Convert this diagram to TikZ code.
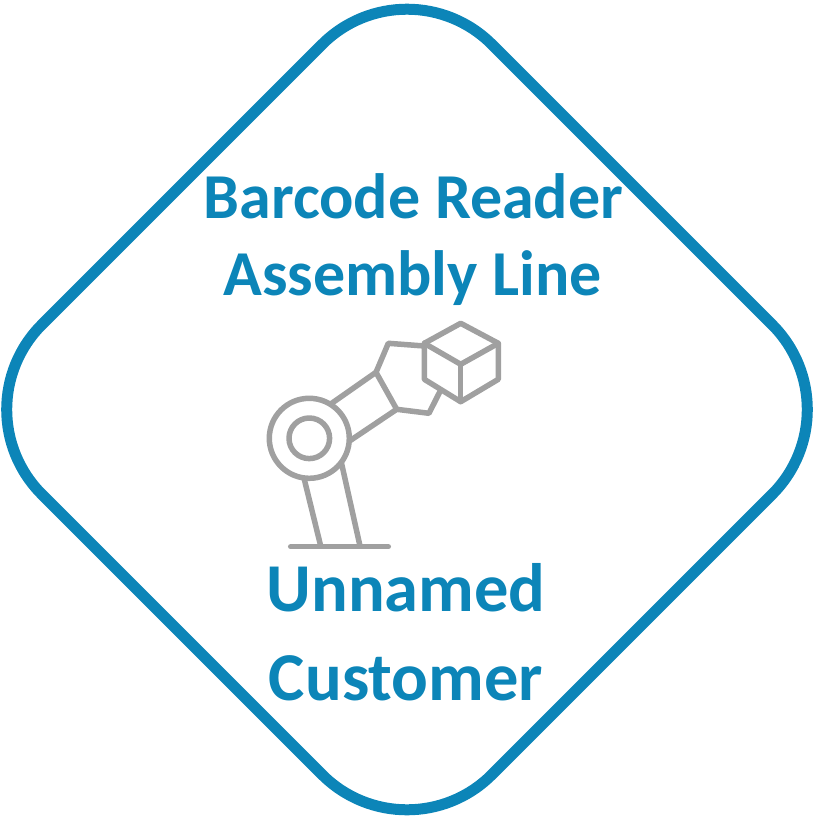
\documentclass[tikz,border=0pt]{standalone}
\usepackage{fontspec}
\setmainfont{Carlito}
\usetikzlibrary{positioning, calc}
\definecolor{framecol}{HTML}{0C85B8}
\definecolor{robotcol}{HTML}{A0A0A0}

\begin{document}
\begin{tikzpicture}[
  x=1pt, y=-1pt,
  frame/.style = {draw=framecol, line width=11pt, rounded corners=120pt},
  robot/.style = {draw=robotcol, line width=5.5pt, line join=round, line cap=round},
  title/.style = {anchor=base, text=framecol, font=\fontsize{64}{70}\selectfont\bfseries, inner sep=0pt},
  customer/.style = {title, font=\fontsize{68.5}{70}\selectfont\bfseries}
]
  \useasboundingbox (0,0) rectangle (815,817);

  % Outer frame
  \draw[frame] (407,-40.5) -- (857,409.5) -- (407,859.5) -- (-43,409.5) -- cycle;

  % Labels
  \node[title] (line1) at (413.5,218) {Barcode Reader};
  \node[title] (line2) at (412.5,295) {Assembly Line};
  \node[customer] (customer1) at (406,611) {Unnamed};
  \node[customer] (customer2) at (406,700) {Customer};

  % Joint
  \draw[robot] (309.3,438.3) circle (40);
  \draw[robot] (309.3,438.3) circle (20.3);

  % Leg and base
  \draw[robot] (304.3,479.3) -- (320.7,546);
  \draw[robot] (341.7,464) -- (360,546);
  \draw[robot] (290.7,546.7) -- (388.3,546.7);

  % Arm and gripper
  \draw[robot] (331.7,403.3) -- (376,372.3) -- (396.7,409.3) -- (350,440.7);
  \draw[robot] (376,372.3) -- (388.3,343.3) -- (424.3,346);
  \draw[robot] (396.7,409.3) -- (429,413.3) -- (440.7,390);

  % Box
  \draw[robot] (460.7,323.3) -- (498.3,343.3) -- (498.3,379.3) -- (460.7,401.7)
    -- (424.3,379.3) -- (424.3,343.3) -- cycle;
  \draw[robot] (424.3,343.3) -- (460.7,364.3) -- (498.3,343.3);
  \draw[robot] (460.7,364.3) -- (460.7,401.7);

\end{tikzpicture}
\end{document}
